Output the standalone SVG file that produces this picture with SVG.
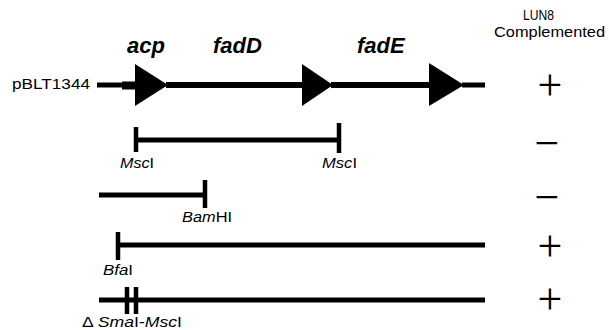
<svg xmlns="http://www.w3.org/2000/svg" width="609" height="330" viewBox="0 0 609 330">
<style>
  .lbl { font-family: "Liberation Sans", Arial, sans-serif; font-size: 14.5px; fill: #000; }
  .gene { font-family: "Liberation Sans", Arial, sans-serif; font-size: 22px; font-weight: bold; font-style: italic; fill: #000; }
  .site { font-family: "Liberation Sans", Arial, sans-serif; font-size: 14.5px; font-style: italic; fill: #000; }
  .up { font-style: normal; }
  .sym { font-family: "Liberation Serif", "Times New Roman", serif; font-size: 44px; fill: #000; text-anchor: middle; }
  .bar { stroke: #000; stroke-width: 5; fill: none; }
  .thick { stroke: #000; stroke-width: 6; fill: none; }
  .tick { stroke: #000; stroke-width: 4.5; fill: none; }
  .arrow { fill: #000; }
</style>
<rect width="609" height="330" fill="#fff"/>

<g id="header">
  <text class="lbl" x="523" y="20" textLength="31" lengthAdjust="spacingAndGlyphs">LUN8</text>
  <text class="lbl" x="494" y="37" textLength="111" lengthAdjust="spacingAndGlyphs">Complemented</text>
</g>

<g id="genes">
  <text class="gene" x="127" y="53">acp</text>
  <text class="gene" x="213" y="53">fadD</text>
  <text class="gene" x="357" y="53">fadE</text>
</g>

<g id="row-pBLT1344">
  <text class="lbl" x="12" y="89" textLength="78" lengthAdjust="spacingAndGlyphs">pBLT1344</text>
  <line class="bar" x1="97" y1="85" x2="123" y2="85"/>
  <line x1="122" y1="85.5" x2="137" y2="85.5" stroke="#000" stroke-width="8"/>
  <polygon class="arrow" points="135,64 168,85 135,106"/>
  <line class="thick" x1="166" y1="85" x2="303" y2="85"/>
  <polygon class="arrow" points="302,64 333,85 302,106"/>
  <line class="thick" x1="331" y1="85" x2="430" y2="85"/>
  <polygon class="arrow" points="429,63 464,85 429,106"/>
  <line class="bar" x1="462" y1="85" x2="485" y2="85"/>
  <text class="sym" x="550" y="100">+</text>
</g>

<g id="row-MscI">
  <line class="tick" x1="136" y1="127" x2="136" y2="152"/>
  <line class="bar" x1="136" y1="140" x2="339" y2="140"/>
  <line class="tick" x1="339" y1="123" x2="339" y2="153"/>
  <text class="site" x="120" y="168" textLength="34" lengthAdjust="spacingAndGlyphs">Msc<tspan class="up">I</tspan></text>
  <text class="site" x="322" y="168" textLength="35" lengthAdjust="spacingAndGlyphs">Msc<tspan class="up">I</tspan></text>
  <text class="sym" x="547" y="158" font-size="40">−</text>
</g>

<g id="row-BamHI">
  <line class="bar" x1="99" y1="195" x2="205" y2="195"/>
  <line class="tick" x1="205" y1="180" x2="205" y2="208"/>
  <text class="site" x="182" y="222" textLength="50" lengthAdjust="spacingAndGlyphs">Bam<tspan class="up">HI</tspan></text>
  <text class="sym" x="547" y="212" font-size="40">−</text>
</g>

<g id="row-BfaI">
  <line class="tick" x1="118" y1="232" x2="118" y2="260"/>
  <line class="bar" x1="118" y1="245" x2="485" y2="245"/>
  <text class="site" x="103" y="275" textLength="30" lengthAdjust="spacingAndGlyphs">Bfa<tspan class="up">I</tspan></text>
  <text class="sym" x="550" y="261">+</text>
</g>

<g id="row-SmaI-MscI">
  <line class="bar" x1="99" y1="300" x2="485" y2="300"/>
  <line class="tick" x1="127" y1="287" x2="127" y2="314"/>
  <line class="tick" x1="136" y1="287" x2="136" y2="314"/>
  <text class="site" x="82" y="327" textLength="100" lengthAdjust="spacingAndGlyphs"><tspan class="up">Δ </tspan>Sma<tspan class="up">I</tspan>-Msc<tspan class="up">I</tspan></text>
  <text class="sym" x="550" y="314">+</text>
</g>
</svg>
